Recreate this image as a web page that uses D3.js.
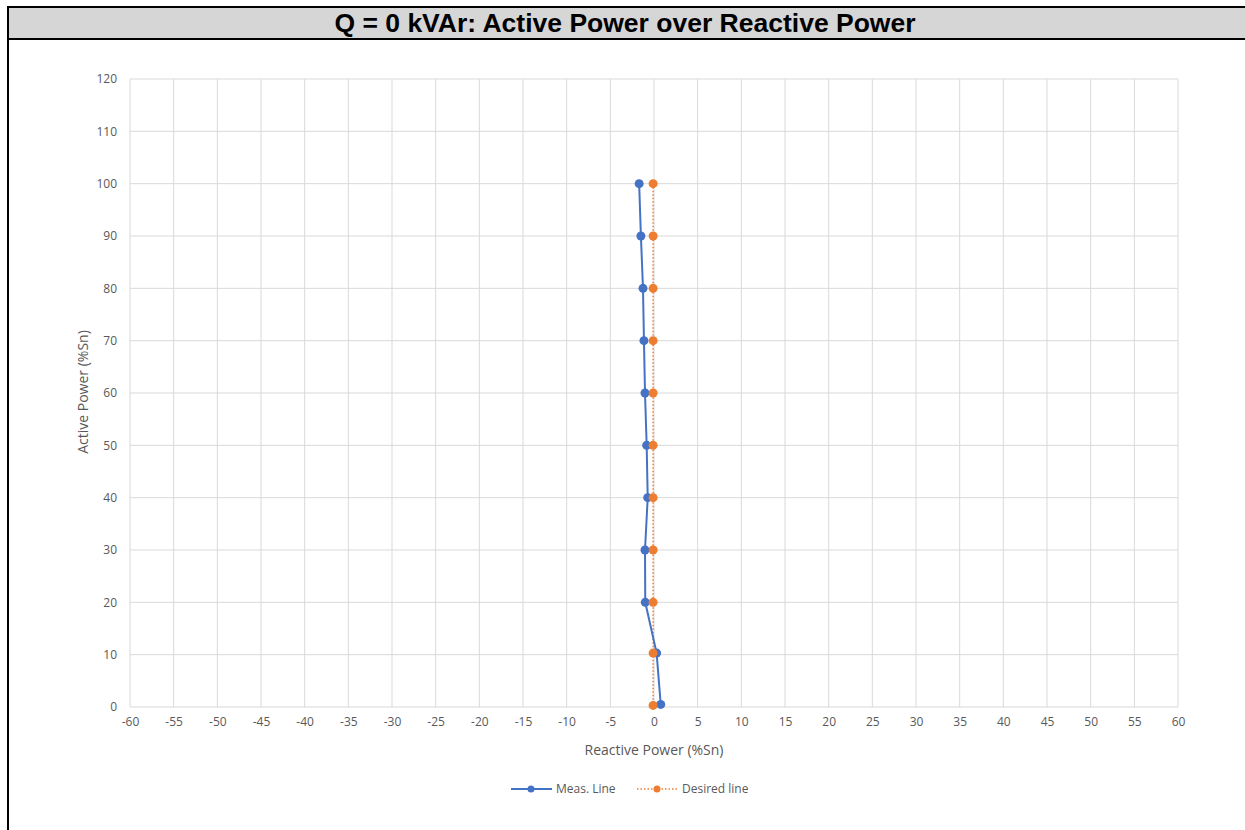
<!DOCTYPE html>
<html>
<head>
<meta charset="utf-8">
<title>Q = 0 kVAr</title>
<script src="https://cdnjs.cloudflare.com/ajax/libs/d3/7.8.5/d3.min.js"></script>
<style>
  body { margin: 0; background: #fff; }
  svg { display: block; }
  .tick text { font-family: "Open Sans", sans-serif; font-size: 12px; fill: #595959; }
</style>
</head>
<body>
<script>
// values
const activePower = [100, 90, 80, 70, 60, 50, 40, 30, 20, 10.3, 0.5];
const measReactive = [-1.7, -1.5, -1.26, -1.15, -1.03, -0.84, -0.72, -1.03, -1.0, 0.3, 0.77];
const desiredReactive = [-0.1, -0.1, -0.1, -0.1, -0.1, -0.1, -0.1, -0.1, -0.1, -0.1, -0.1];
const desiredActive = [100, 90, 80, 70, 60, 50, 40, 30, 20, 10.3, 0.3];
const xTicks = d3.range(-60, 61, 5);
const yTicks = d3.range(0, 121, 10);

const width = 1245, height = 830;
const svg = d3.select("body").append("svg")
  .attr("width", width)
  .attr("height", height);

// title box
svg.append("rect")
  .attr("x", 8).attr("y", 7)
  .attr("width", width).attr("height", 32)
  .attr("fill", "#d6d6d6");
svg.append("line").attr("x1", 7).attr("x2", width).attr("y1", 7).attr("y2", 7)
  .attr("stroke", "#000").attr("stroke-width", 2);
svg.append("line").attr("x1", 7).attr("x2", width).attr("y1", 39).attr("y2", 39)
  .attr("stroke", "#000").attr("stroke-width", 2);
svg.append("line").attr("x1", 8).attr("x2", 8).attr("y1", 6).attr("y2", height)
  .attr("stroke", "#000").attr("stroke-width", 2);
svg.append("text")
  .attr("x", 625).attr("y", 32)
  .attr("text-anchor", "middle")
  .style("font-family", "Liberation Sans, Arial, sans-serif")
  .style("font-weight", "bold")
  .style("font-size", "26.5px")
  .text("Q = 0 kVAr: Active Power over Reactive Power");

const x = d3.scaleLinear().domain([-60, 60]).range([130, 1178]);
const y = d3.scaleLinear().domain([0, 120]).range([707, 79]);

// gridlines
svg.append("g")
  .selectAll("line.v")
  .data(xTicks)
  .enter().append("line")
    .attr("x1", d => x(d)).attr("x2", d => x(d))
    .attr("y1", y(120)).attr("y2", y(0))
    .attr("stroke", "#d9d9d9");
svg.append("g")
  .selectAll("line.h")
  .data(yTicks)
  .enter().append("line")
    .attr("x1", x(-60)).attr("x2", x(60))
    .attr("y1", d => y(d)).attr("y2", d => y(d))
    .attr("stroke", "#d9d9d9");

// axes (labels only, lines come from grid)
const xAxis = svg.append("g")
  .attr("transform", "translate(0," + y(0) + ")")
  .call(d3.axisBottom(x).tickValues(xTicks).tickSize(0).tickPadding(10)
    .tickFormat(d => String(d)));
xAxis.select(".domain").remove();

const yAxis = svg.append("g")
  .attr("transform", "translate(" + x(-60) + ",0)")
  .call(d3.axisLeft(y).tickValues(yTicks).tickSize(0).tickPadding(13)
    .tickFormat(d => String(d)));
yAxis.select(".domain").remove();

svg.append("text")
  .attr("x", 654).attr("y", 755)
  .attr("text-anchor", "middle")
  .style("font-family", "Open Sans, sans-serif")
  .style("font-size", "14px")
  .style("fill", "#595959")
  .text("Reactive Power (%Sn)");

svg.append("text")
  .attr("transform", "translate(88," + (y(60) - 1) + ") rotate(-90)")
  .attr("text-anchor", "middle")
  .style("font-family", "Open Sans, sans-serif")
  .style("font-size", "14px")
  .style("fill", "#595959")
  .text("Active Power (%Sn)");

const blue = "#4472c4", orange = "#ed7d31";

const meas = activePower.map((p, i) => [measReactive[i], p]);
const desired = desiredActive.map((p, i) => [desiredReactive[i], p]);
const line = d3.line().x(d => x(d[0])).y(d => y(d[1]));

svg.append("path")
  .datum(desired)
  .attr("d", line)
  .attr("fill", "none")
  .attr("stroke", orange)
  .attr("stroke-width", 1.5)
  .attr("stroke-dasharray", "1.5,2");

svg.append("path")
  .datum(meas)
  .attr("d", line)
  .attr("fill", "none")
  .attr("stroke", blue)
  .attr("stroke-width", 2);

svg.selectAll(".meas")
  .data(meas)
  .enter().append("circle")
    .attr("cx", d => x(d[0])).attr("cy", d => y(d[1]))
    .attr("r", 4.5)
    .attr("fill", blue);

svg.selectAll(".desired")
  .data(desired)
  .enter().append("circle")
    .attr("cx", d => x(d[0])).attr("cy", d => y(d[1]))
    .attr("r", 4.5)
    .attr("fill", orange);

// legend
const legend = svg.append("g").attr("transform", "translate(0,789)");
legend.append("line").attr("x1", 511).attr("x2", 552).attr("y1", 0).attr("y2", 0)
  .attr("stroke", blue).attr("stroke-width", 2);
legend.append("circle").attr("cx", 531).attr("cy", 0).attr("r", 3.5).attr("fill", blue);
legend.append("text").attr("x", 556).attr("y", 4)
  .style("font-family", "Open Sans, sans-serif").style("font-size", "12px").style("fill", "#595959")
  .text("Meas. Line");
legend.append("line").attr("x1", 637).attr("x2", 678).attr("y1", 0).attr("y2", 0)
  .attr("stroke", orange).attr("stroke-width", 1.5).attr("stroke-dasharray", "1.5,2");
legend.append("circle").attr("cx", 657).attr("cy", 0).attr("r", 3.5).attr("fill", orange);
legend.append("text").attr("x", 682).attr("y", 4)
  .style("font-family", "Open Sans, sans-serif").style("font-size", "12px").style("fill", "#595959")
  .text("Desired line");
</script>
</body>
</html>
